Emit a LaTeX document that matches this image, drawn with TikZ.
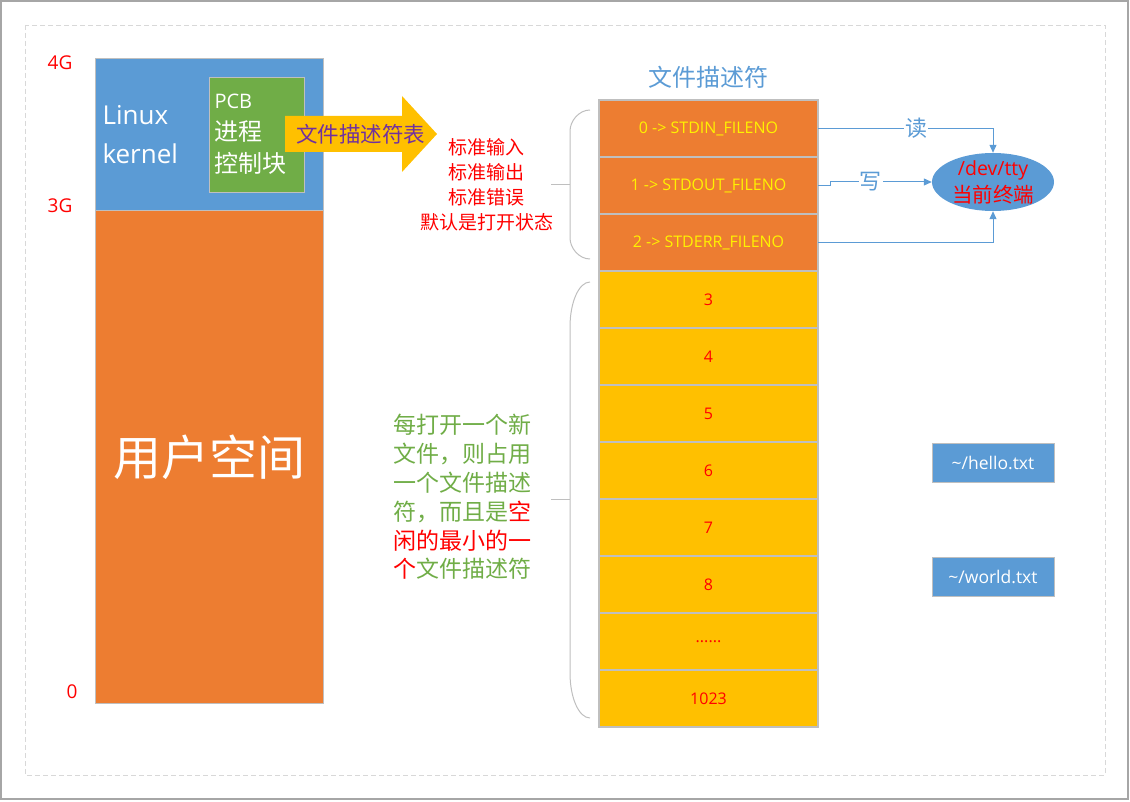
\documentclass[tikz,border=0pt]{standalone}
\usepackage{fontspec}
\setmainfont{Open Sans}
\newfontfamily\cjk{Noto Sans CJK SC}
\usetikzlibrary{shapes.geometric,arrows.meta}
\definecolor{kblue}{HTML}{5B9BD5}
\definecolor{uorange}{HTML}{ED7D31}
\definecolor{pgreen}{HTML}{70AD47}
\definecolor{gold}{HTML}{FFC000}
\definecolor{fpurple}{HTML}{7030A0}
\definecolor{cellgray}{HTML}{BFBFBF}
\definecolor{pagegray}{HTML}{A6A6A6}
\newcommand\sixdots{......}

\begin{document}
\begin{tikzpicture}[x=1pt,y=-1pt,
  cell/.style={minimum width=219pt,minimum height=57pt,inner sep=0pt,outer sep=0pt,font=\fontsize{16}{18}\selectfont},
  stdcell/.style={cell,fill=uorange,text=yellow},
  numcell/.style={cell,fill=gold,text=red},
  link/.style={kblue,line width=1pt,-{Triangle[length=8pt,width=7pt]}},
  braceline/.style={cellgray,line width=1pt},
  addr/.style={text=red,font=\fontsize{19}{22}\selectfont},
  filebox/.style={draw=cellgray,line width=1pt,fill=kblue,text=white,minimum width=122pt,minimum height=39pt,font=\fontsize{17.5}{20}\selectfont}]
  \useasboundingbox (0,0) rectangle (1130,802);
  % page
  \draw[pagegray,line width=1.5pt] (1,1) rectangle (1128,799);
  \draw[cellgray!60,line width=0.8pt,dash pattern=on 5pt off 3pt] (25,25) rectangle (1105,775);
  % address space
  \node[draw=cellgray,fill=kblue,minimum width=227.5pt,minimum height=152pt] (kernel) at (209.25,134.5) {};
  \node[draw=cellgray,fill=uorange,minimum width=227.5pt,minimum height=493pt,text=white,font=\cjk\fontsize{48}{50}\selectfont] (user) at (209.25,457) {用户空间};
  \node[anchor=west,align=left,text=white,font=\fontsize{26}{39}\selectfont] (ktext) at (99,135) {Linux\\kernel};
  \node[draw=cellgray,fill=pgreen,minimum width=95pt,minimum height=115pt] (pcb) at (256.5,134.5) {};
  \node[anchor=west,align=left,text=white,font=\fontsize{20}{32}\selectfont] (pcbtext) at (211,134) {PCB\\{\cjk\fontsize{24}{32}\selectfont 进程}\\{\cjk\fontsize{24}{32}\selectfont 控制块}};
  \node[addr] (g4) at (60,63) {4G};
  \node[addr] (g3) at (60,206) {3G};
  \node[addr] (g0) at (72,692) {0};
  % block arrow
  \fill[gold] (285,116) -- (402,116) -- (402,96) -- (437,134) -- (402,172) -- (402,152) -- (285,152) -- cycle;
  \node[text=fpurple,font=\cjk\fontsize{21.5}{24}\selectfont] (fdtable) at (360.5,134) {文件描述符表};
  % notes and braces
  \node[text=red,align=center,font=\cjk\fontsize{19}{25}\selectfont] (stdnote) at (486.5,185) {标准输入\\标准输出\\标准错误\\默认是打开状态};
  \draw[braceline] (590,110) .. controls (579,110) and (570,121) .. (570,131) -- (570,238) .. controls (570,248) and (579,259) .. (590,259);
  \draw[braceline] (551,185) -- (570,185);
  \draw[braceline] (590,282) .. controls (579,282) and (570,302) .. (570,327) -- (570,673) .. controls (570,698) and (579,718) .. (590,718);
  \draw[braceline] (551,499) -- (570,499);
  \node[anchor=west,align=left,text=pgreen,font=\cjk\fontsize{23}{28.8}\selectfont] (newnote) at (390,497) {每打开一个新\\文件，则占用\\一个文件描述\\符，而且是{\color{red}空}\\{\color{red}闲的最小的一}\\{\color{red}个}文件描述符};
  % descriptor table
  \node[text=kblue,font=\cjk\fontsize{24}{26}\selectfont] (fdtitle) at (708,77) {文件描述符};
  \foreach \i/\t in {0/STDIN,1/STDOUT,2/STDERR}
    \node[stdcell] (fd\i) at (708.5,{128.5+57*\i}) {\i\ -> \t\_FILENO};
  \foreach \t [count=\i from 3] in {3,4,5,6,7,8,\sixdots,1023}
    \node[numcell] (fd\i) at (708.5,{128.5+57*\i}) {\t};
  \foreach \i in {0,...,9}
    \draw[cellgray,line width=1.5pt] (fd\i.south west) -- (fd\i.south east);
  \draw[cellgray,line width=1.2pt] (fd0.north west) rectangle (fd10.south east);
  % terminal
  \node[ellipse,fill=kblue,minimum width=122pt,minimum height=58pt,inner sep=0pt] (tty) at (993,182) {};
  \node[text=red,align=center,font=\fontsize{19.5}{27}\selectfont] (ttytext) at (tty) {/dev/tty\\{\cjk\fontsize{20.5}{27}\selectfont 当前终端}};
  \draw[link] (fd0.east) -| node[pos=0.28,fill=white,inner sep=1pt,font=\cjk\fontsize{22}{24}\selectfont]{读} (tty.north);
  \draw[link] (fd1.east) -- ++(12,0) |- node[pos=0.7,fill=white,inner sep=1pt,font=\cjk\fontsize{22}{24}\selectfont]{写} (tty.west);
  \draw[link] (fd2.east) -| (tty.south);
  % files
  \node[filebox] (hello) at (993,462.5) {\textasciitilde/hello.txt};
  \node[filebox] (world) at (993,576.5) {\textasciitilde/world.txt};
\end{tikzpicture}
\end{document}
